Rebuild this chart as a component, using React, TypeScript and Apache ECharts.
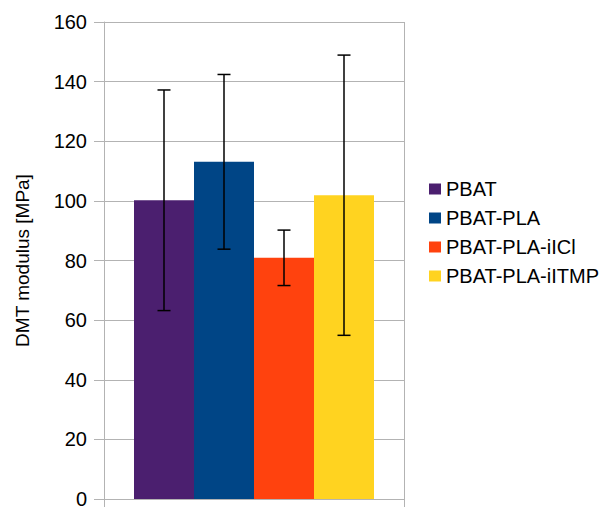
import React, { useEffect, useRef } from "react";
import * as echarts from "echarts";

const categories = [""];
const seriesNames = ["PBAT", "PBAT-PLA", "PBAT-PLA-iICl", "PBAT-PLA-iITMP"];
const seriesColors = ["#4b1f6f", "#004586", "#ff420e", "#ffd320"];
const meanValues = [100.2, 113.1, 80.9, 101.9];
const errorValues = [37, 29.3, 9.3, 47];
const yTicks = { min: 0, max: 160, interval: 20 };

export default function App() {
  const ref = useRef<HTMLDivElement>(null);
  useEffect(() => {
    if (!ref.current) return;
    const chart = echarts.init(ref.current, undefined, { renderer: "svg" });
    const grid = "#b3b3b3";
    const barCount = seriesNames.length;
    const barSeries = seriesNames.map((name, i) => ({
      name,
      type: "bar",
      data: [meanValues[i]],
      itemStyle: { color: seriesColors[i] },
      barGap: "0%",
      barCategoryGap: "20%",
      z: 2,
    }));
    const errSeries = {
      type: "custom",
      name: "err",
      z: 5,
      encode: { x: 0, y: [1, 2] },
      data: meanValues.map((m, i) => [0, m - errorValues[i], m + errorValues[i], i]),
      renderItem: (params: any, api: any) => {
        const cat = api.value(0);
        const lo = api.value(1);
        const hi = api.value(2);
        const idx = api.value(3);
        const band = api.size([1, 0])[0];
        const barW = (band * 0.8) / barCount;
        const pLo = api.coord([cat, lo]);
        const pHi = api.coord([cat, hi]);
        const cx = pLo[0] + (idx - (barCount - 1) / 2) * barW;
        const hw = 6.5;
        const style = { stroke: "#000", lineWidth: 1.5 };
        return {
          type: "group",
          children: [
            { type: "line", shape: { x1: cx, y1: pLo[1], x2: cx, y2: pHi[1] }, style },
            { type: "line", shape: { x1: cx - hw, y1: pLo[1], x2: cx + hw, y2: pLo[1] }, style },
            { type: "line", shape: { x1: cx - hw, y1: pHi[1], x2: cx + hw, y2: pHi[1] }, style },
          ],
        };
      },
    };
    chart.setOption({
      animation: false,
      backgroundColor: "#fff",
      textStyle: { fontFamily: "Liberation Sans, Arial, sans-serif" },
      grid: { left: 104, top: 22, right: 198, bottom: 5.5, containLabel: false },
      legend: {
        orient: "vertical",
        left: 424,
        top: 174,
        itemWidth: 12,
        itemHeight: 11,
        itemGap: 9,
        icon: "rect",
        data: seriesNames,
        textStyle: { fontSize: 20, color: "#000", fontFamily: "Liberation Sans, Arial, sans-serif" },
      },
      xAxis: {
        type: "category",
        data: categories,
        axisLine: { show: true, lineStyle: { color: grid, width: 1 } },
        axisTick: { show: true, length: 8, lineStyle: { color: grid } },
        axisLabel: { show: false },
        splitLine: { show: true, lineStyle: { color: grid, width: 1 } },
      },
      yAxis: {
        type: "value",
        min: yTicks.min,
        max: yTicks.max,
        interval: yTicks.interval,
        name: "DMT modulus [MPa]",
        nameLocation: "middle",
        nameGap: 72,
        nameRotate: 90,
        nameTextStyle: { fontSize: 19, color: "#000", fontFamily: "Liberation Sans, Arial, sans-serif" },
        axisLine: { show: true, lineStyle: { color: grid, width: 1 } },
        axisTick: { show: true, length: 10, lineStyle: { color: grid } },
        axisLabel: { fontSize: 20, color: "#000", margin: 17, fontFamily: "Liberation Sans, Arial, sans-serif" },
        splitLine: { show: true, lineStyle: { color: grid, width: 1 } },
      },
      series: [...barSeries, errSeries],
    });
    return () => chart.dispose();
  }, []);
  return (
    <div
      ref={ref}
      style={{ position: "fixed", left: 0, top: 0, width: 602, height: 509, background: "#fff" }}
    />
  );
}
